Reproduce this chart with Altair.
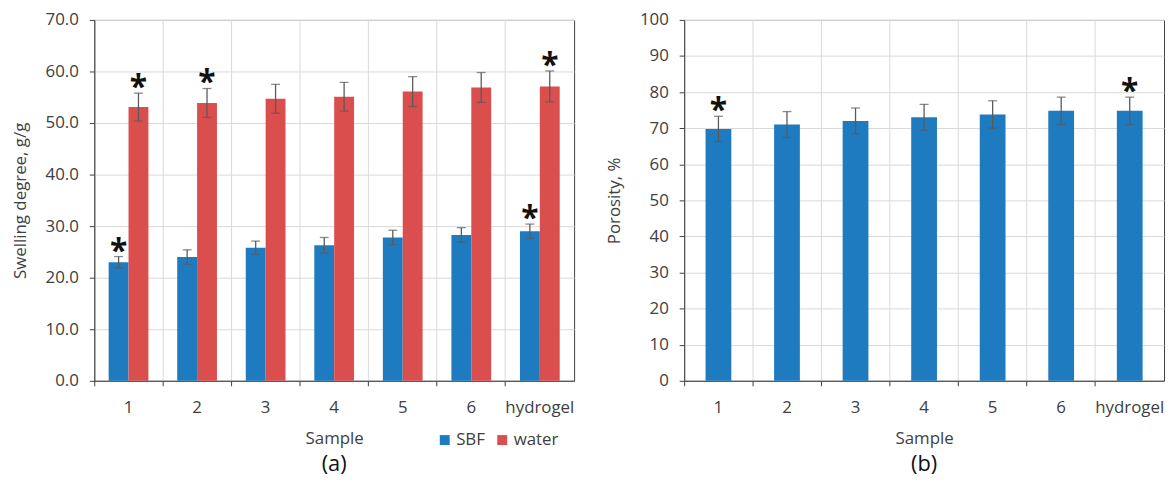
import altair as alt
import pandas as pd

# ---------------- data ----------------
samples = ["1", "2", "3", "4", "5", "6", "hydrogel"]
media = ["SBF", "water"]

sbf = [23.0, 24.0, 25.8, 26.3, 27.8, 28.3, 29.0]
sbf_err = [1.1, 1.4, 1.3, 1.5, 1.4, 1.4, 1.4]
sbf_star = [1, 0, 0, 0, 0, 0, 1]

water = [53.1, 53.9, 54.7, 55.1, 56.1, 56.9, 57.1]
water_err = [2.7, 2.8, 2.8, 2.8, 2.9, 2.9, 3.0]
water_star = [1, 1, 0, 0, 0, 0, 1]

porosity = [69.8, 71.0, 72.0, 73.0, 73.8, 74.8, 74.8]
porosity_err = [3.5, 3.6, 3.6, 3.6, 3.8, 3.8, 3.8]
porosity_star = [1, 0, 0, 0, 0, 0, 1]

swell_ticks = [0, 10, 20, 30, 40, 50, 60, 70]
poro_ticks = [0, 10, 20, 30, 40, 50, 60, 70, 80, 90, 100]

rows_a = []
for i, s in enumerate(samples):
    for m, vals, errs, stars in (("SBF", sbf, sbf_err, sbf_star),
                                 ("water", water, water_err, water_star)):
        rows_a.append(dict(Sample=s, Medium=m, value=vals[i],
                           lo=vals[i] - errs[i], hi=vals[i] + errs[i],
                           star=stars[i]))
df_a = pd.DataFrame(rows_a)

df_b = pd.DataFrame(dict(Sample=samples, value=porosity,
                         lo=[v - e for v, e in zip(porosity, porosity_err)],
                         hi=[v + e for v, e in zip(porosity, porosity_err)],
                         star=porosity_star))

# ---------------- style ----------------
FONT = "Open Sans"
BLUE = "#1E7BC0"
RED = "#DB4E4E"
ERR = "#5A5A5A"
TXT = "#404040"
W, H = 484, 364
STAR_SIZE = 32
STAR_DY = 5

def x_enc():
    return alt.X("Sample:N", sort=samples, title="Sample",
                 scale=alt.Scale(paddingInner=0, paddingOuter=0),
                 axis=alt.Axis(bandPosition=0, labelAngle=0, grid=True))

xo = alt.XOffset("Medium:N", sort=media,
                 scale=alt.Scale(paddingInner=0, paddingOuter=0.725))

ya = alt.Scale(domain=[0, 70], nice=False)
yb = alt.Scale(domain=[0, 100], nice=False)

def ya_enc(field):
    return alt.Y(field, type="quantitative", scale=ya, title="Swelling degree, g/g",
                 axis=alt.Axis(values=swell_ticks, format=".1f"))

def yb_enc(field):
    return alt.Y(field, type="quantitative", scale=yb, title="Porosity, %",
                 axis=alt.Axis(values=poro_ticks, format="d"))

# ---------------- panel (a) ----------------
base_a = alt.Chart(df_a)
bars_a = base_a.mark_bar().encode(
    x=x_enc(), xOffset=xo,
    y=ya_enc("value"),
    color=alt.Color("Medium:N", sort=media,
                    scale=alt.Scale(domain=media, range=[BLUE, RED]),
                    legend=alt.Legend(orient="none", legendX=345, legendY=415,
                                      direction="horizontal", title=None,
                                      symbolType="square", symbolSize=100,
                                      symbolStrokeWidth=0, labelFontSize=17,
                                      labelFont=FONT, labelColor=TXT,
                                      columnPadding=8, labelOffset=3)),
)
rule_a = base_a.mark_rule(color=ERR, strokeWidth=1.3).encode(
    x=x_enc(), xOffset=xo, y=ya_enc("lo"), y2="hi:Q")
caplo_a = base_a.mark_tick(color=ERR, size=9, thickness=1.3).encode(
    x=x_enc(), xOffset=xo, y=ya_enc("lo"))
caphi_a = base_a.mark_tick(color=ERR, size=9, thickness=1.3).encode(
    x=x_enc(), xOffset=xo, y=ya_enc("hi"))
star_a = base_a.transform_filter("datum.star == 1").mark_text(
    text="*", font=FONT, fontSize=STAR_SIZE, fontWeight="bold", color="#111111",
    baseline="alphabetic", dy=STAR_DY).encode(
    x=x_enc(), xOffset=xo, y=ya_enc("hi"))

panel_a = alt.layer(bars_a, rule_a, caplo_a, caphi_a, star_a).properties(
    width=W, height=H,
    title=alt.TitleParams("(a)", orient="bottom", frame="group", fontSize=22,
                          fontWeight="normal", font=FONT, color="#111111",
                          offset=8))

# ---------------- panel (b) ----------------
base_b = alt.Chart(df_b)
bars_b = base_b.mark_bar(color=BLUE, width=alt.RelativeBandSize(0.376)).encode(
    x=x_enc(), y=yb_enc("value"))
rule_b = base_b.mark_rule(color=ERR, strokeWidth=1.3).encode(
    x=x_enc(), y=yb_enc("lo"), y2="hi:Q")
caplo_b = base_b.mark_tick(color=ERR, size=9, thickness=1.3).encode(
    x=x_enc(), y=yb_enc("lo"))
caphi_b = base_b.mark_tick(color=ERR, size=9, thickness=1.3).encode(
    x=x_enc(), y=yb_enc("hi"))
star_b = base_b.transform_filter("datum.star == 1").mark_text(
    text="*", font=FONT, fontSize=STAR_SIZE, fontWeight="bold", color="#111111",
    baseline="alphabetic", dy=STAR_DY).encode(
    x=x_enc(), y=yb_enc("hi"))

panel_b = alt.layer(bars_b, rule_b, caplo_b, caphi_b, star_b).properties(
    width=W, height=H,
    title=alt.TitleParams("(b)", orient="bottom", frame="group", fontSize=22,
                          fontWeight="normal", font=FONT, color="#111111",
                          offset=8))

chart = alt.hconcat(panel_a, panel_b, spacing=30).properties(
    padding={"left": 2, "top": 0, "right": 0, "bottom": 0}
).configure_view(
    stroke=TXT, strokeWidth=1
).configure_axis(
    labelFont=FONT, titleFont=FONT, labelFontSize=17, titleFontSize=17,
    labelColor=TXT, titleColor=TXT, titleFontWeight="normal",
    gridColor="#D9D9D9", gridWidth=1, domainColor=TXT, tickColor=TXT,
    tickSize=5, domainWidth=1
).configure_axisY(
    labelPadding=11, titlePadding=16
).configure_axisX(
    labelPadding=14, titlePadding=15
)

chart.save("out.html", embed_options={"renderer": "svg", "actions": False})
